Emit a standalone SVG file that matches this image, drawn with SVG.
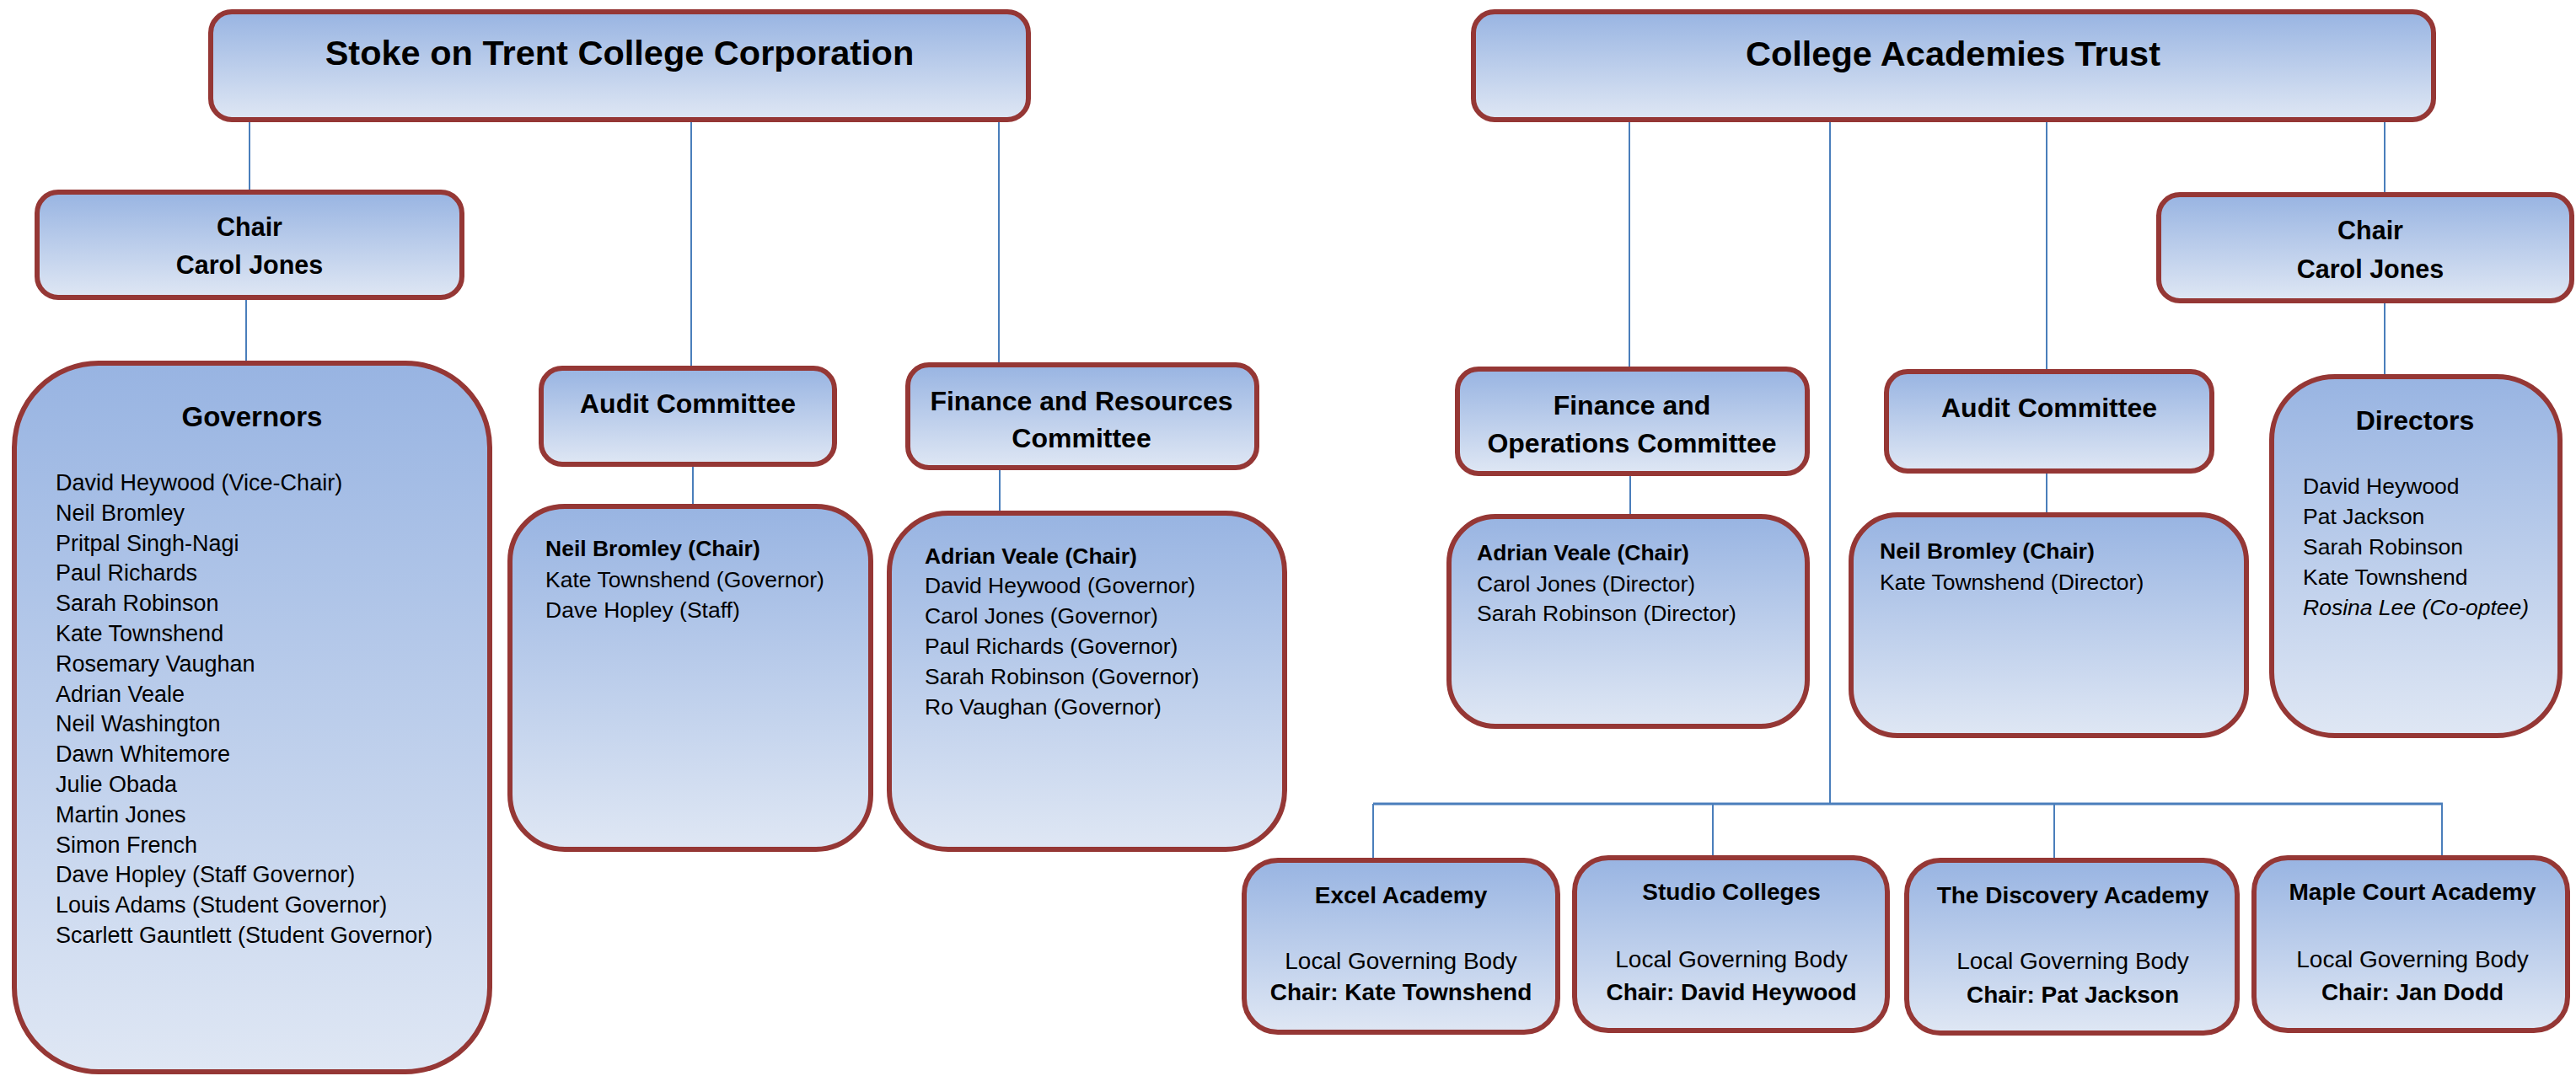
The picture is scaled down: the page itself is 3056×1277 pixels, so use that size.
<svg xmlns="http://www.w3.org/2000/svg" width="3056" height="1277" viewBox="0 0 3056 1277">
<defs>
<linearGradient id="bg" x1="0" y1="0" x2="0" y2="1">
<stop offset="0" stop-color="#98B4E2"/>
<stop offset="1" stop-color="#DFE7F4"/>
</linearGradient>
</defs>
<style>
.box{fill:url(#bg);stroke:#953735;stroke-width:6}
.ln{stroke:#4A7EBB;stroke-width:2;fill:none}
text{font-family:"Liberation Sans",Arial,sans-serif;fill:#000}
.t{font-size:41.5px;font-weight:bold;text-anchor:middle}
.c{font-size:30.5px;font-weight:bold;text-anchor:middle}
.h{font-size:32px;font-weight:bold;text-anchor:middle}
.m{font-size:26.5px}
.b{font-weight:bold}
.i{font-style:italic}
.a{font-size:28px;text-anchor:middle}
</style>
<rect width="3056" height="1277" fill="#fff"/>
<g id="connectors">
<line class="ln" x1="296" y1="142" x2="296" y2="228"/>
<line class="ln" x1="292" y1="353" x2="292" y2="431"/>
<line class="ln" x1="820" y1="142" x2="820" y2="437"/>
<line class="ln" x1="822" y1="551" x2="822" y2="601"/>
<line class="ln" x1="1185" y1="142" x2="1185" y2="433"/>
<line class="ln" x1="1186" y1="555" x2="1186" y2="609"/>
<line class="ln" x1="1933" y1="142" x2="1933" y2="438"/>
<line class="ln" x1="1934" y1="562" x2="1934" y2="613"/>
<line class="ln" x1="2171" y1="142" x2="2171" y2="954"/>
<line class="ln" x1="2428" y1="142" x2="2428" y2="441"/>
<line class="ln" x1="2428" y1="559" x2="2428" y2="611"/>
<line class="ln" x1="2829" y1="142" x2="2829" y2="231"/>
<line class="ln" x1="2829" y1="357" x2="2829" y2="447"/>
<line class="ln" x1="1629" y1="954" x2="2898" y2="954" style="stroke-width:3"/>
<line class="ln" x1="1629" y1="954" x2="1629" y2="1021"/>
<line class="ln" x1="2032" y1="954" x2="2032" y2="1018"/>
<line class="ln" x1="2437" y1="954" x2="2437" y2="1021"/>
<line class="ln" x1="2897" y1="954" x2="2897" y2="1018"/>
</g>
<g id="stoke">
<rect class="box" x="250" y="14" width="970" height="128" rx="25"/>
<text class="t" x="735" y="77">Stoke on Trent College Corporation</text>
</g>
<g id="chair-left">
<rect class="box" x="44" y="228" width="504" height="125" rx="25"/>
<text class="c" x="296" y="280">Chair</text>
<text class="c" x="296" y="325">Carol Jones</text>
</g>
<g id="governors">
<rect class="box" x="17" y="431" width="564" height="841" rx="100"/>
<text class="h" x="299" y="506" style="font-size:33px">Governors</text>
<text class="m" x="66" y="582" style="font-size:27px">
<tspan x="66" dy="0">David Heywood (Vice-Chair)</tspan>
<tspan x="66" dy="35.8">Neil Bromley</tspan>
<tspan x="66" dy="35.8">Pritpal Singh-Nagi</tspan>
<tspan x="66" dy="35.8">Paul Richards</tspan>
<tspan x="66" dy="35.8">Sarah Robinson</tspan>
<tspan x="66" dy="35.8">Kate Townshend</tspan>
<tspan x="66" dy="35.8">Rosemary Vaughan</tspan>
<tspan x="66" dy="35.8">Adrian Veale</tspan>
<tspan x="66" dy="35.8">Neil Washington</tspan>
<tspan x="66" dy="35.8">Dawn Whitemore</tspan>
<tspan x="66" dy="35.8">Julie Obada</tspan>
<tspan x="66" dy="35.8">Martin Jones</tspan>
<tspan x="66" dy="35.8">Simon French</tspan>
<tspan x="66" dy="35.8">Dave Hopley (Staff Governor)</tspan>
<tspan x="66" dy="35.8">Louis Adams (Student Governor)</tspan>
<tspan x="66" dy="35.8">Scarlett Gauntlett (Student Governor)</tspan>
</text>
</g>
<g id="audit-left">
<rect class="box" x="642" y="437" width="348" height="114" rx="25"/>
<text class="h" x="816" y="490">Audit Committee</text>
</g>
<g id="audit-left-members">
<rect class="box" x="605" y="601" width="428" height="407" rx="65"/>
<text class="m b" x="647" y="660">Neil Bromley (Chair)</text>
<text class="m" x="647" y="697">Kate Townshend (Governor)</text>
<text class="m" x="647" y="733">Dave Hopley (Staff)</text>
</g>
<g id="finance-left">
<rect class="box" x="1077" y="433" width="414" height="122" rx="25"/>
<text class="h" x="1283" y="487">Finance and Resources</text>
<text class="h" x="1283" y="531">Committee</text>
</g>
<g id="finance-left-members">
<rect class="box" x="1055" y="609" width="469" height="399" rx="70"/>
<text class="m b" x="1097" y="669">Adrian Veale (Chair)</text>
<text class="m" x="1097" y="704">David Heywood (Governor)</text>
<text class="m" x="1097" y="740">Carol Jones (Governor)</text>
<text class="m" x="1097" y="776">Paul Richards (Governor)</text>
<text class="m" x="1097" y="812">Sarah Robinson (Governor)</text>
<text class="m" x="1097" y="848">Ro Vaughan (Governor)</text>
</g>
<g id="trust">
<rect class="box" x="1748" y="14" width="1139" height="128" rx="25"/>
<text class="t" x="2317" y="78">College Academies Trust</text>
</g>
<g id="chair-right">
<rect class="box" x="2561" y="231" width="490" height="126" rx="25"/>
<text class="c" x="2812" y="284">Chair</text>
<text class="c" x="2812" y="330">Carol Jones</text>
</g>
<g id="finance-ops">
<rect class="box" x="1729" y="438" width="415" height="124" rx="25"/>
<text class="h" x="1936" y="492">Finance and</text>
<text class="h" x="1936" y="537">Operations Committee</text>
</g>
<g id="finance-ops-members">
<rect class="box" x="1719" y="613" width="425" height="249" rx="55"/>
<text class="m b" x="1752" y="665">Adrian Veale (Chair)</text>
<text class="m" x="1752" y="702">Carol Jones (Director)</text>
<text class="m" x="1752" y="737">Sarah Robinson (Director)</text>
</g>
<g id="audit-right">
<rect class="box" x="2238" y="441" width="386" height="118" rx="25"/>
<text class="h" x="2431" y="495">Audit Committee</text>
</g>
<g id="audit-right-members">
<rect class="box" x="2196" y="611" width="469" height="262" rx="55"/>
<text class="m b" x="2230" y="663">Neil Bromley (Chair)</text>
<text class="m" x="2230" y="700">Kate Townshend (Director)</text>
</g>
<g id="directors">
<rect class="box" x="2695" y="447" width="342" height="426" rx="75"/>
<text class="h" x="2865" y="510">Directors</text>
<text class="m" x="2732" y="586">David Heywood</text>
<text class="m" x="2732" y="622">Pat Jackson</text>
<text class="m" x="2732" y="658">Sarah Robinson</text>
<text class="m" x="2732" y="694">Kate Townshend</text>
<text class="m i" x="2732" y="730">Rosina Lee (Co-optee)</text>
</g>
<g id="excel">
<rect class="box" x="1476" y="1021" width="372" height="204" rx="40"/>
<text class="a b" x="1662" y="1072">Excel Academy</text>
<text class="a" x="1662" y="1150">Local Governing Body</text>
<text class="a b" x="1662" y="1187">Chair: Kate Townshend</text>
</g>
<g id="studio">
<rect class="box" x="1868" y="1018" width="371" height="205" rx="40"/>
<text class="a b" x="2054" y="1068">Studio Colleges</text>
<text class="a" x="2054" y="1148">Local Governing Body</text>
<text class="a b" x="2054" y="1187">Chair: David Heywood</text>
</g>
<g id="discovery">
<rect class="box" x="2262" y="1021" width="392" height="205" rx="40"/>
<text class="a b" x="2459" y="1072">The Discovery Academy</text>
<text class="a" x="2459" y="1150">Local Governing Body</text>
<text class="a b" x="2459" y="1190">Chair: Pat Jackson</text>
</g>
<g id="maple">
<rect class="box" x="2674" y="1018" width="372" height="205" rx="40"/>
<text class="a b" x="2862" y="1068">Maple Court Academy</text>
<text class="a" x="2862" y="1148">Local Governing Body</text>
<text class="a b" x="2862" y="1187">Chair: Jan Dodd</text>
</g>
</svg>
